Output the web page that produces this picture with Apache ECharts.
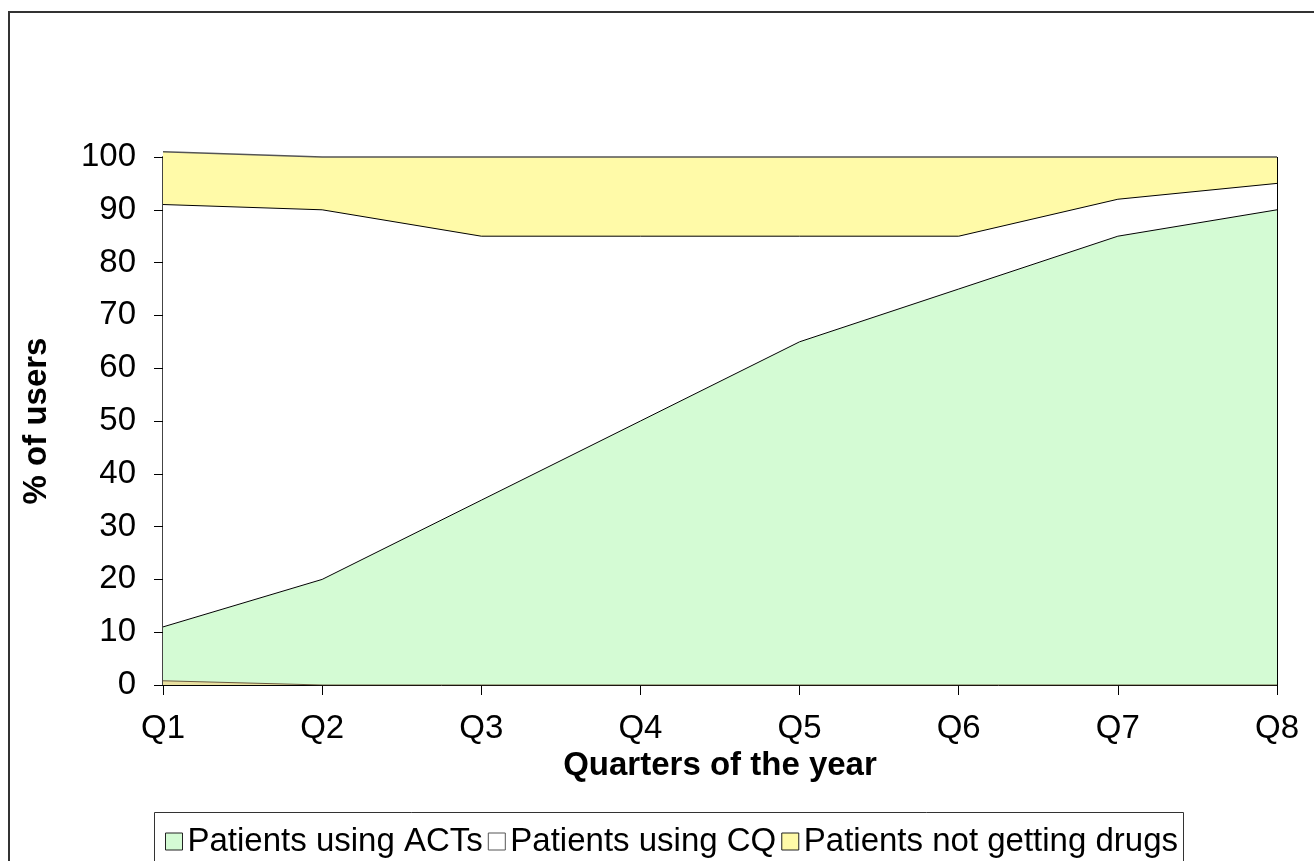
<!DOCTYPE html>
<html>
<head>
<meta charset="utf-8">
<script src="https://cdn.jsdelivr.net/npm/echarts@6/dist/echarts.min.js"></script>
<style>
  html, body { margin: 0; padding: 0; background: #fff; }
  #chart { width: 1314px; height: 861px; }
</style>
</head>
<body>
<div id="chart"></div>
<script>
// quarters on the x axis
const quarters = ['Q1', 'Q2', 'Q3', 'Q4', 'Q5', 'Q6', 'Q7', 'Q8'];
// % of users, stacked
const actUsers = [11, 20, 35, 50, 65, 75, 85, 90];
const cqUsers = [80, 70, 50, 35, 20, 10, 7, 5];
const noDrugs = [10, 10, 15, 15, 15, 15, 8, 5];
// thin sliver along the bottom near Q1
const otherSliver = [0.8, 0, 0, 0, 0, 0, 0, 0];
const yTicks = [0, 10, 20, 30, 40, 50, 60, 70, 80, 90, 100];

const chartDom = document.getElementById('chart');
const myChart = echarts.init(chartDom);
const font = '"Liberation Sans", Arial, sans-serif';

const option = {
    animation: false,
    textStyle: { fontFamily: font },
    graphic: [
        {
            type: 'rect',
            shape: { x: 9, y: 12, width: 1400, height: 1000 },
            style: { fill: 'none', stroke: '#333', lineWidth: 2 },
            silent: true
        },
        {
            type: 'rect',
            shape: { x: 154.5, y: 812.5, width: 1029, height: 100 },
            style: { fill: '#fff', stroke: '#333', lineWidth: 1 },
            silent: true
        }
    ],
    grid: { left: 163, right: 37, top: 157, bottom: 176 },
    legend: {
        top: 820,
        left: 160,
        itemWidth: 17,
        itemHeight: 17,
        itemGap: 5,
        icon: 'rect',
        textStyle: { fontSize: 33, color: '#000', fontFamily: font },
        data: [
            { name: 'Patients using ACTs', itemStyle: { color: '#d4fbd4', borderColor: '#222', borderWidth: 1 } },
            { name: 'Patients using CQ', itemStyle: { color: '#fff', borderColor: '#555', borderWidth: 1 } },
            { name: 'Patients not getting drugs', itemStyle: { color: '#fffaa8', borderColor: '#222', borderWidth: 1 } }
        ]
    },
    xAxis: {
        type: 'category',
        data: quarters,
        boundaryGap: false,
        name: 'Quarters of the year',
        nameLocation: 'middle',
        nameGap: 60,
        nameTextStyle: { fontSize: 33, fontWeight: 'bold', color: '#000' },
        axisLine: { lineStyle: { color: '#000', width: 1 } },
        axisTick: { length: 10, lineStyle: { color: '#000' } },
        axisLabel: { fontSize: 33, color: '#000', margin: 27 }
    },
    yAxis: {
        type: 'value',
        min: yTicks[0],
        max: yTicks[yTicks.length - 1],
        interval: 10,
        name: '% of users',
        nameLocation: 'middle',
        nameGap: 110,
        nameRotate: 90,
        nameTextStyle: { fontSize: 33, fontWeight: 'bold', color: '#000' },
        axisLine: { show: true, lineStyle: { color: '#444', width: 2 } },
        axisTick: { show: true, length: 9, lineStyle: { color: '#000' } },
        axisLabel: { fontSize: 33, color: '#000', margin: 27 },
        splitLine: { show: false }
    },
    series: [
        {
            name: 'Patients using ACTs',
            type: 'line',
            stack: 'users',
            data: actUsers,
            symbol: 'none',
            clip: false,
            lineStyle: { color: '#000', width: 1 },
            areaStyle: { color: '#d4fbd4', opacity: 1 },
            itemStyle: { color: '#d4fbd4' }
        },
        {
            name: 'Patients using CQ',
            type: 'line',
            stack: 'users',
            data: cqUsers,
            symbol: 'none',
            clip: false,
            lineStyle: { color: '#000', width: 1 },
            areaStyle: { color: '#fff', opacity: 1 },
            itemStyle: { color: '#fff' }
        },
        {
            name: 'Patients not getting drugs',
            type: 'line',
            stack: 'users',
            data: noDrugs,
            symbol: 'none',
            clip: false,
            lineStyle: { color: '#555', width: 1.5 },
            areaStyle: { color: '#fffaa8', opacity: 1 },
            itemStyle: { color: '#fffaa8' },
            markLine: {
                silent: true,
                symbol: 'none',
                label: { show: false },
                lineStyle: { color: '#000', width: 1, type: 'solid' },
                data: [[{ coord: ['Q8', 0] }, { coord: ['Q8', 100] }]]
            }
        },
        {
            name: 'Other',
            type: 'line',
            data: otherSliver,
            symbol: 'none',
            z: 5,
            lineStyle: { color: '#6b5a40', width: 1 },
            areaStyle: { color: '#e8e0a0', opacity: 1 }
        }
    ]
};
myChart.setOption(option);
</script>
</body>
</html>
